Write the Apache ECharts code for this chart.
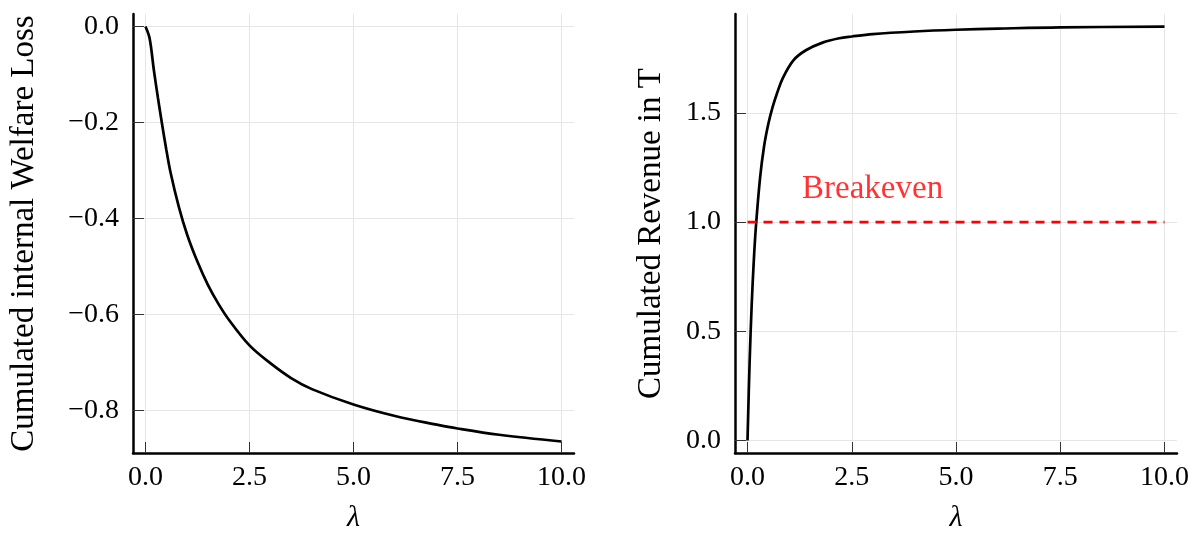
<!DOCTYPE html>
<html>
<head>
<meta charset="utf-8">
<script src="https://cdn.jsdelivr.net/npm/echarts@6/dist/echarts.min.js"></script>
<style>
  html, body { margin: 0; padding: 0; background: #fff; }
  #chart { width: 1202px; height: 538px; }
</style>
</head>
<body>
<div id="chart"></div>
<script>
// left panel: cumulated internal welfare loss vs lambda
var lambdaLoss = [0, 0.1, 0.2, 0.3, 0.4, 0.5, 0.6, 0.8, 1.0, 1.25, 1.5, 1.75, 2.0, 2.5, 3.0, 3.5, 4.0, 5.0, 6.0, 7.0, 7.5, 8.5, 10];
var welfareLoss = [0, -0.025, -0.09, -0.149, -0.204, -0.256, -0.303, -0.375, -0.433, -0.49, -0.538, -0.577, -0.61, -0.664, -0.701, -0.732, -0.755, -0.787, -0.811, -0.829, -0.837, -0.85, -0.864];

// right panel: cumulated revenue vs lambda
var lambdaRev = [0, 0.05, 0.1, 0.15, 0.2, 0.3, 0.4, 0.5, 0.6, 0.7, 0.85, 1.1, 1.4, 1.8, 2.2, 2.5, 3.0, 4.0, 5.0, 6.0, 7.5, 10];
var revenue = [0, 0.355, 0.62, 0.82, 0.975, 1.2, 1.35, 1.45, 1.525, 1.585, 1.66, 1.74, 1.786, 1.821, 1.841, 1.849, 1.86, 1.872, 1.88, 1.885, 1.891, 1.894];

// breakeven line and its label
var breakevenX = [0, 10];
var breakevenY = 1.0;
var breakevenLabel = { text: 'Breakeven', x: 3.0, y: 1.15 };

// tick values
var xTicks = [0, 2.5, 5, 7.5, 10];
var yTicksLoss = [0, -0.2, -0.4, -0.6, -0.8];
var yTicksRev = [0, 0.5, 1.0, 1.5];

var FONT = '"Liberation Serif", "DejaVu Serif", serif';

function fmt(v) {
  return v.toFixed(1).replace('-', '\u2212');
}

function pairs(xs, ys) {
  return xs.map(function (x, i) { return [x, ys[i]]; });
}

function xAxisFor(gridIndex) {
  return {
    type: 'value',
    gridIndex: gridIndex,
    min: -0.3,
    max: 10.3,
    name: 'λ',
    nameLocation: 'middle',
    nameGap: 50,
    nameTextStyle: { fontFamily: FONT, fontSize: 30, fontStyle: 'italic', color: '#000' },
    axisLine: { show: true, onZero: false, lineStyle: { color: '#000', width: 2.5 } },
    axisTick: { show: true, inside: true, length: 11, customValues: xTicks, lineStyle: { color: '#333', width: 1 } },
    axisLabel: { customValues: xTicks, formatter: fmt, fontFamily: FONT, fontSize: 28, color: '#000', margin: 11, showMinLabel: true, showMaxLabel: true },
    splitLine: { show: true, lineStyle: { color: '#e6e6e6', width: 1 } }
  };
}

function yAxisFor(gridIndex, min, max, ticks, name, gap) {
  return {
    type: 'value',
    gridIndex: gridIndex,
    min: min,
    max: max,
    name: name,
    nameLocation: 'middle',
    nameGap: gap,
    nameTextStyle: { fontFamily: FONT, fontSize: 33, color: '#000' },
    axisLine: { show: true, onZero: false, lineStyle: { color: '#000', width: 2.5 } },
    axisTick: { show: true, inside: true, length: 11, customValues: ticks, lineStyle: { color: '#333', width: 1 } },
    axisLabel: { customValues: ticks, formatter: fmt, fontFamily: FONT, fontSize: 28, color: '#000', margin: 14 },
    splitLine: { show: true, lineStyle: { color: '#e6e6e6', width: 1 } }
  };
}

var chart = echarts.init(document.getElementById('chart'), null, { renderer: 'canvas' });

var option = {
  backgroundColor: '#ffffff',
  animation: false,
  grid: [
    { left: 133, top: 14, width: 441, height: 441 },
    { left: 735, top: 14, width: 442, height: 441 }
  ],
  xAxis: [xAxisFor(0), xAxisFor(1)],
  yAxis: [
    yAxisFor(0, -0.888, 0.026, yTicksLoss, 'Cumulated internal Welfare Loss', 92),
    yAxisFor(1, -0.057, 1.952, yTicksRev, 'Cumulated Revenue in T', 67)
  ],
  series: [
    {
      type: 'line',
      xAxisIndex: 0,
      yAxisIndex: 0,
      data: pairs(lambdaLoss, welfareLoss),
      showSymbol: false,
      smooth: 0.35,
      lineStyle: { color: '#000', width: 2.7 }
    },
    {
      type: 'line',
      xAxisIndex: 1,
      yAxisIndex: 1,
      data: pairs(lambdaRev, revenue),
      showSymbol: false,
      smooth: 0.35,
      lineStyle: { color: '#000', width: 2.7 }
    },
    {
      type: 'line',
      xAxisIndex: 1,
      yAxisIndex: 1,
      data: breakevenX.map(function (x) { return [x, breakevenY]; }),
      showSymbol: false,
      lineStyle: { color: '#ff0000', width: 2.7, type: [9, 7] }
    },
    {
      type: 'scatter',
      xAxisIndex: 1,
      yAxisIndex: 1,
      symbolSize: 0,
      data: [[breakevenLabel.x, breakevenLabel.y]],
      label: {
        show: true,
        position: 'inside',
        formatter: breakevenLabel.text,
        fontFamily: FONT,
        fontSize: 33,
        color: '#ff0000'
      }
    }
  ]
};

chart.setOption(option);
</script>
</body>
</html>
